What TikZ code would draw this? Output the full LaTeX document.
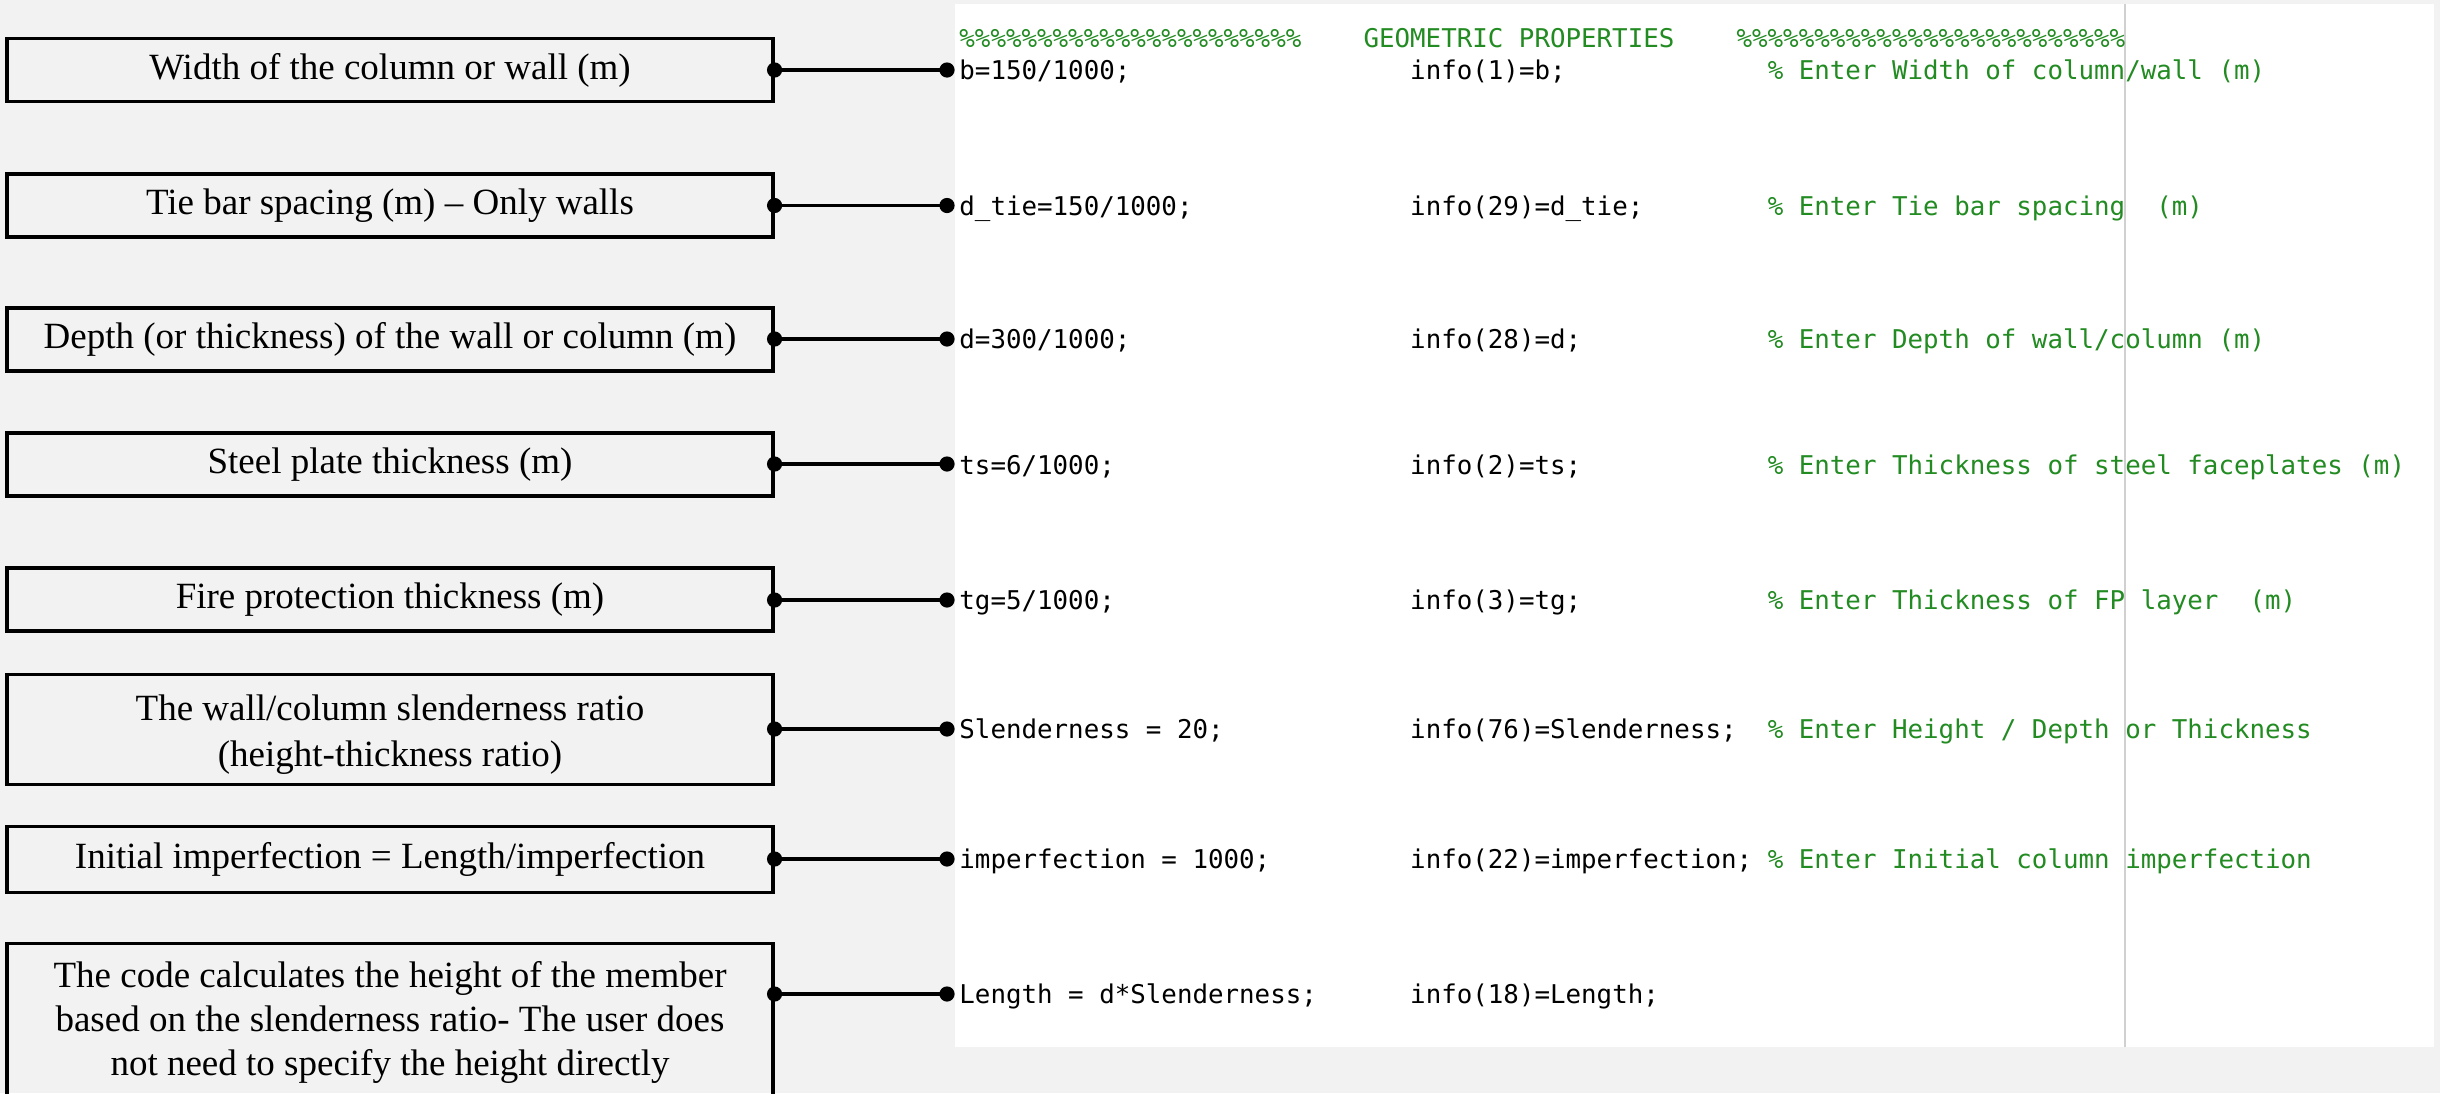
\documentclass[tikz,border=0pt]{standalone}
\usepackage{fontspec}
\setmainfont{Liberation Serif}
\newfontfamily\codefont{DejaVu Sans Mono}
\frenchspacing
\definecolor{bgc}{HTML}{F2F2F2}
\definecolor{cmt}{HTML}{228B22}
\definecolor{rulec}{HTML}{D0D0D0}
\newcommand{\codeline}[3]{\makebox[17.4595em][l]{#1}\makebox[13.8472em][l]{#2}\textcolor{cmt}{#3}}
\newcommand{\onestrut}{\rule[-4pt]{0pt}{17pt}}
\newcommand{\topstrut}{\rule{0pt}{18.1pt}}
\begin{document}
\begin{tikzpicture}[x=0.5pt,y=-0.5pt,
  labelbox/.style={draw, line width=1.8pt, minimum width=382.75pt, minimum height=31.5pt, inner sep=2pt, align=center, font=\fontsize{18.5}{22}\selectfont},
  code/.style={anchor=base west, inner sep=0pt, font=\codefont\fontsize{12.91}{15}\selectfont},
  conn/.style={line width=1.8pt},
  dotr/.style={radius=3.8pt}
]
\clip (0,0) rectangle (2440,1093);
\fill[bgc] (0,0) rectangle (2440,1093);
% code panel
\fill[white] (955,4) rectangle (2434,1047);
\draw[rulec, line width=0.8pt] (2125,4) -- (2125,1047);

% header
\node[code, text=cmt] (hdr) at (959,47) {\%\%\%\%\%\%\%\%\%\%\%\%\%\%\%\%\%\%\%\%\%\%\hspace{2.4082em}GEOMETRIC PROPERTIES\hspace{2.4082em}\%\%\%\%\%\%\%\%\%\%\%\%\%\%\%\%\%\%\%\%\%\%\%\%\%};

% label boxes
\node[labelbox] (b1) at (390,70) {\onestrut Width of the column or wall (m)};
\node[labelbox] (b2) at (390,205.5) {\onestrut Tie bar spacing (m) – Only walls};
\node[labelbox] (b3) at (390,339.5) {\onestrut Depth (or thickness) of the wall or column (m)};
\node[labelbox] (b4) at (390,464.5) {\onestrut Steel plate thickness (m)};
\node[labelbox] (b5) at (390,599.5) {\onestrut Fire protection thickness (m)};
\node[labelbox, minimum height=55pt, font=\fontsize{18.5}{23}\selectfont] (b6) at (390,729.5) {\topstrut The wall/column slenderness ratio\\(height-thickness ratio)};
\node[labelbox, minimum height=33pt] (b7) at (390,859.5) {\onestrut Initial imperfection = Length/imperfection};
\node[labelbox, minimum height=79pt] (b8) at (390,1022.5) {The code calculates the height of the member\\based on the slenderness ratio- The user does\\not need to specify the height directly};

% code lines
\node[code] (c1) at (959,79.5) {\codeline{b=150/1000;}{info(1)=b;}{\% Enter Width of column/wall (m)}};
\node[code] (c2) at (959,215) {\codeline{d\_tie=150/1000;}{info(29)=d\_tie;}{\% Enter Tie bar spacing\ \ (m)}};
\node[code] (c3) at (959,348.5) {\codeline{d=300/1000;}{info(28)=d;}{\% Enter Depth of wall/column (m)}};
\node[code] (c4) at (959,474) {\codeline{ts=6/1000;}{info(2)=ts;}{\% Enter Thickness of steel faceplates (m)}};
\node[code] (c5) at (959,609.5) {\codeline{tg=5/1000;}{info(3)=tg;}{\% Enter Thickness of FP layer\ \ (m)}};
\node[code] (c6) at (959,738.5) {\codeline{Slenderness = 20;}{info(76)=Slenderness;}{\% Enter Height / Depth or Thickness}};
\node[code] (c7) at (959,868.5) {\codeline{imperfection = 1000;}{info(22)=imperfection;}{\% Enter Initial column imperfection}};
\node[code] (c8) at (959,1003.5) {\codeline{Length = d*Slenderness;}{info(18)=Length;}{}};

% connector end points
\coordinate (p1) at (947,70);
\coordinate (p2) at (947,205.5);
\coordinate (p3) at (947,339);
\coordinate (p4) at (947,464);
\coordinate (p5) at (947,600);
\coordinate (p6) at (947,729);
\coordinate (p7) at (947,859);
\coordinate (p8) at (947,994);

\foreach \i in {1,...,8}{
  \draw[conn] (b\i.east |- p\i) -- (p\i);
  \fill (b\i.east |- p\i) circle[dotr];
  \fill (p\i) circle[dotr];
}
\end{tikzpicture}
\end{document}
